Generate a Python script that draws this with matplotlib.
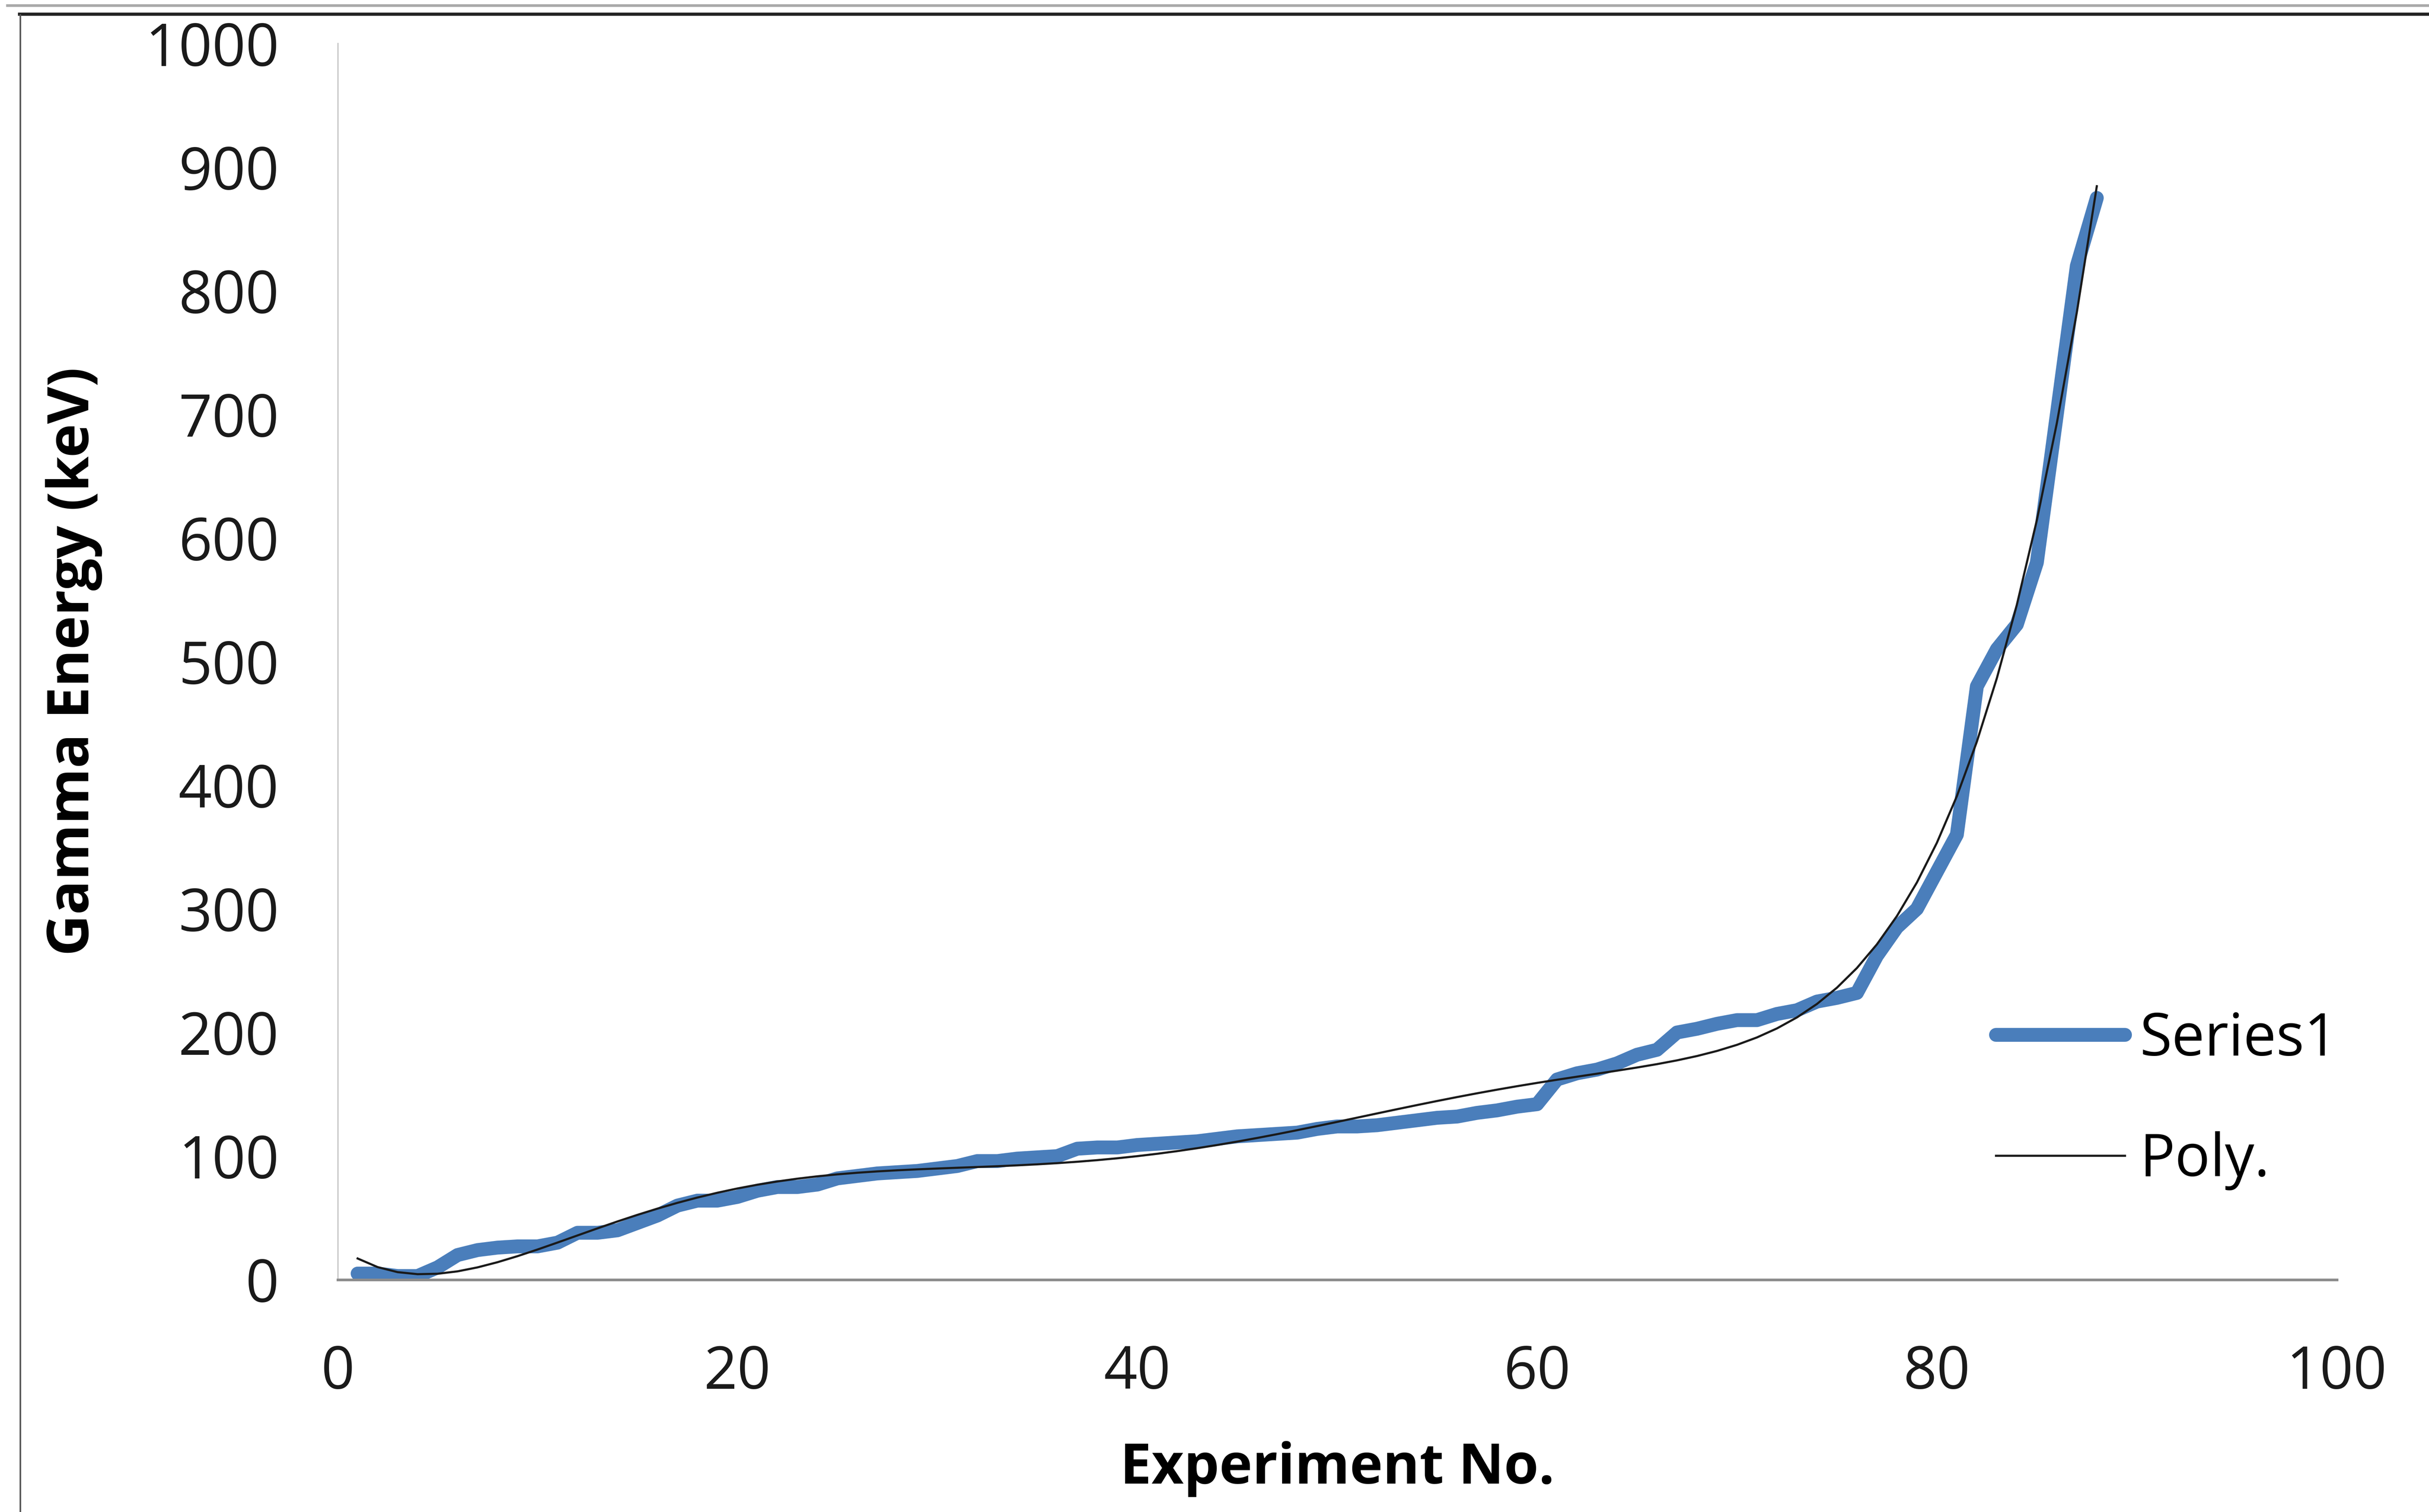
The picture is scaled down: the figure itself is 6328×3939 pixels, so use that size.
import numpy as np
import matplotlib.pyplot as plt
from matplotlib.lines import Line2D

# measured gamma energies (keV), experiment 1..88
experiment = list(range(1, 89))
energy = [5, 5, 3, 3, 10, 20, 24, 26, 27, 27,
          30, 38, 38, 40, 46, 52, 60, 64, 64, 67,
          72, 75, 75, 77, 82, 84, 86, 87, 88, 90,
          92, 96, 96, 98, 99, 100, 106, 107, 107, 109,
          110, 111, 112, 114, 116, 117, 118, 119, 122, 124,
          124, 125, 127, 129, 131, 132, 135, 137, 140, 142,
          162, 167, 170, 175, 182, 186, 200, 203, 207, 210,
          210, 215, 218, 225, 228, 232, 262, 285, 300, 330,
          360, 480, 510, 530, 580, 700, 820, 875]

x_ticks = [0, 20, 40, 60, 80, 100]
y_ticks = [0, 100, 200, 300, 400, 500, 600, 700, 800, 900, 1000]

plt.rcParams['font.family'] = ['Open Sans', 'DejaVu Sans']

fig = plt.figure(figsize=(63.28, 39.39), dpi=100)
ax = fig.add_axes([0.139, 0.1536, 0.823, 0.8177])

# polynomial trendline (6th order, like the spreadsheet one)
xs = np.array(experiment, dtype=float)
coef = np.polyfit(xs, np.array(energy, dtype=float), 6)
poly_y = np.polyval(coef, xs)

ax.plot(experiment, energy, color='#4a7ebb', lw=26, solid_joinstyle='round',
        solid_capstyle='round', label='Series1', zorder=2)
ax.plot(experiment, poly_y, color='#1a1a1a', lw=4, label='Poly.', zorder=3)

ax.set_xlim(0, 100)
ax.set_ylim(0, 1000)
ax.set_xticks(x_ticks)
ax.set_yticks(y_ticks)
ax.tick_params(length=0, labelsize=110, colors='#1a1a1a')
ax.tick_params(axis='x', pad=120)
ax.tick_params(axis='y', pad=110)

for s in ['top', 'right']:
    ax.spines[s].set_visible(False)
ax.spines['left'].set_color('#c8c8c8')
ax.spines['left'].set_linewidth(2.5)
ax.spines['bottom'].set_color('#8c8c8c')
ax.spines['bottom'].set_linewidth(5)

ax.set_xlabel('Experiment No.', fontsize=105, fontweight='bold', va='center')
ax.xaxis.set_label_coords(0.5, -0.153)
ax.set_ylabel('Gamma Energy (keV)', fontsize=107, fontweight='bold', va='center')
ax.yaxis.set_label_coords(-0.132, 0.5)

ax.legend(loc='center right', bbox_to_anchor=(1.027, 0.145), frameon=False,
          fontsize=110, handlelength=2.2, handletextpad=0.25, labelspacing=1.05)

# screenshot frame lines
fig.add_artist(Line2D([0.003, 1], [0.9965, 0.9965], color='#aaaaaa', lw=5))
fig.add_artist(Line2D([0.008, 1], [0.9905, 0.9905], color='#222222', lw=6))
fig.add_artist(Line2D([0.0083, 0.0083], [0, 0.99], color='#555555', lw=3))

fig.savefig('out.png', dpi=100, facecolor='white')
